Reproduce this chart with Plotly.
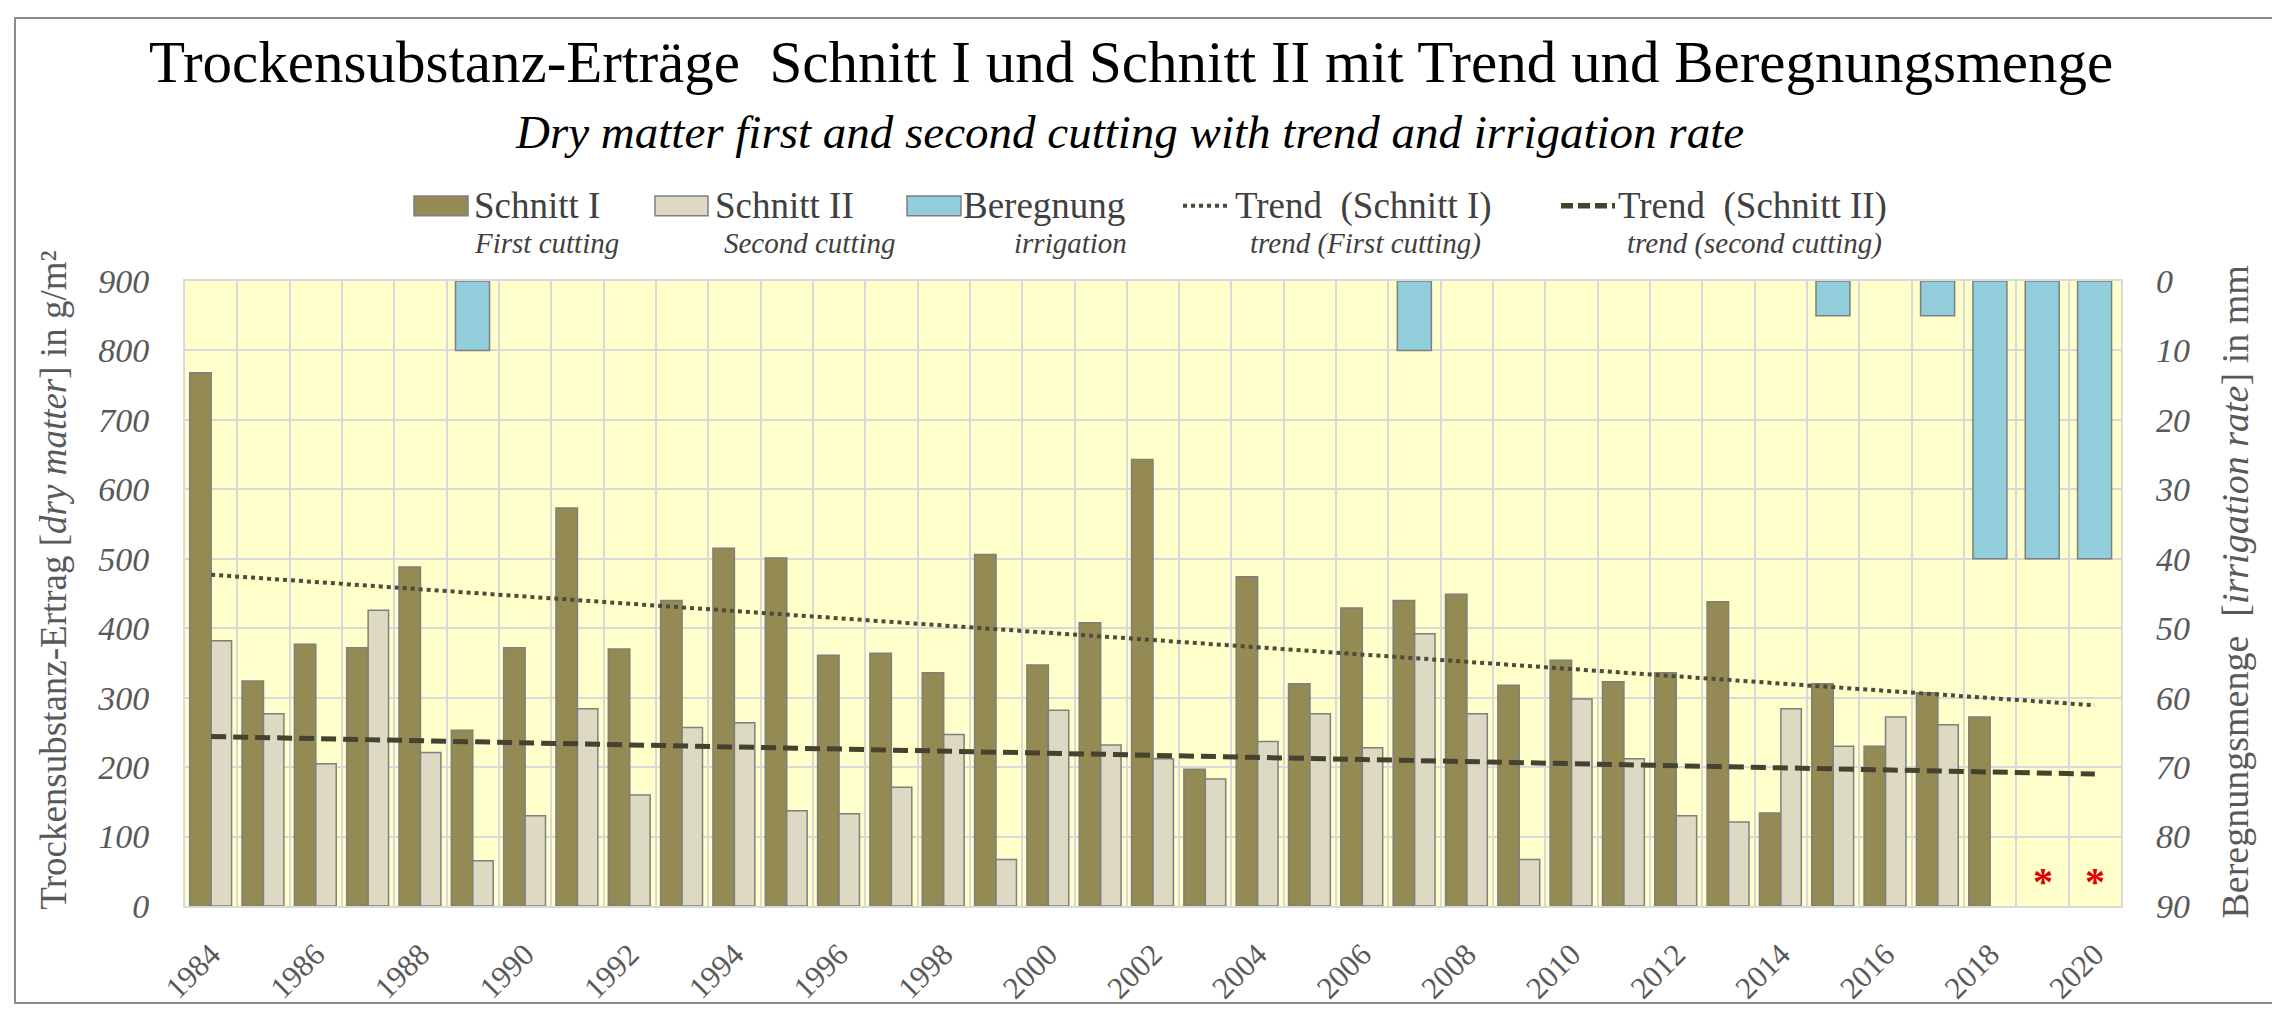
import plotly.graph_objects as go

# --- data ---
years = list(range(1984, 2021))

# dry matter yield, first cutting (g/m²); 2019 and 2020 missing
schnitt_1 = [768, 324, 377, 372, 488, 253, 372, 573, 370, 440,
             515, 501, 361, 364, 336, 506, 347, 408, 643, 197,
             474, 320, 429, 440, 449, 318, 354, 323, 336, 438,
             134, 320, 230, 307, 272, None, None]

# dry matter yield, second cutting (g/m²)
schnitt_2 = [382, 277, 205, 426, 221, 65, 130, 284, 160, 257,
             264, 137, 133, 171, 247, 67, 282, 232, 212, 183,
             237, 277, 228, 392, 277, 67, 298, 212, 130, 121,
             284, 230, 272, 261, None, None, None]

# irrigation (mm), right axis
beregnung = [None, None, None, None, None, 10, None, None, None, None,
             None, None, None, None, None, None, None, None, None, None,
             None, None, None, 10, None, None, None, None, None, None,
             None, 5, None, 5, 40, 40, 40]

# linear trends (start / end values as drawn)
trend_years = [1984, 2020]
trend_1 = [477, 289]
trend_2 = [244, 190]

missing_years = [2019, 2020]
tick_years = [1984, 1986, 1988, 1990, 1992, 1994, 1996, 1998, 2000, 2002,
              2004, 2006, 2008, 2010, 2012, 2014, 2016, 2018, 2020]

# --- styling ---
FONT = "Liberation Serif"
C_S1 = "#948A54"
C_S2 = "#DDD9C3"
C_IRR = "#92CDDC"
C_EDGE = "#7f7f7f"
C_TREND1 = "#4d4c3a"
C_TREND2 = "#45422f"
C_GRID = "#d9d9d9"
C_AXIS = "#595959"
C_LEG = "#404040"

# plot area in page pixels
L, R, T, B = 177, 2113, 273, 905
W, H = R - L, B - T


def px(x):
    return (x - L) / W


def py(y):
    return (B - y) / H


fig = go.Figure()

fig.add_trace(go.Bar(x=years, y=schnitt_1, width=0.41, offset=-0.41,
                     marker=dict(color=C_S1, line=dict(color=C_EDGE, width=1.5)),
                     name="Schnitt I"))
fig.add_trace(go.Bar(x=years, y=schnitt_2, width=0.39, offset=0,
                     marker=dict(color=C_S2, line=dict(color=C_EDGE, width=1.5)),
                     name="Schnitt II"))
fig.add_trace(go.Scatter(x=trend_years, y=trend_1, mode="lines",
                         line=dict(color=C_TREND1, width=4, dash="dot"),
                         name="Trend (Schnitt I)"))
fig.add_trace(go.Scatter(x=trend_years, y=trend_2, mode="lines",
                         line=dict(color=C_TREND2, width=5, dash="15px,7px"),
                         name="Trend (Schnitt II)"))
fig.add_trace(go.Bar(x=years, y=beregnung, yaxis="y2", width=0.65, offset=-0.33,
                     marker=dict(color=C_IRR, line=dict(color=C_EDGE, width=1.5)),
                     name="Beregnung"))

annotations = []
shapes = []

# title + subtitle
annotations.append(dict(text="Trockensubstanz-Erträge  Schnitt I und Schnitt II mit Trend und Beregnungsmenge",
                        x=px(1123), y=py(52), xref="paper", yref="paper",
                        xanchor="center", yanchor="middle", showarrow=False,
                        font=dict(family=FONT, size=59, color="#000000")))
annotations.append(dict(text="<i>Dry matter first and second cutting with trend and irrigation rate</i>",
                        x=px(1121), y=py(122), xref="paper", yref="paper",
                        xanchor="center", yanchor="middle", showarrow=False,
                        font=dict(family=FONT, size=47, color="#000000")))

# hand-built legend with English sub-labels
leg_y, sub_y = 197, 235
legend_items = [
    # kind, colour, x0, x1, text_x, label, sub_x, sub_label
    ("box", C_S1, 406, 460, 464, "Schnitt I", 464, "First cutting"),
    ("box", C_S2, 647, 700, 705, "Schnitt II", 714, "Second cutting"),
    ("box", C_IRR, 899, 953, 953, "Beregnung", 1004, "irrigation"),
    ("dot", C_TREND1, 1175, 1222, 1225, "Trend  (Schnitt I)", 1240, "trend (First cutting)"),
    ("dash", C_TREND2, 1553, 1607, 1608, "Trend  (Schnitt II)", 1617, "trend (second cutting)"),
]
for kind, col, x0, x1, tx, label, sx, sub in legend_items:
    if kind == "box":
        shapes.append(dict(type="rect", xref="paper", yref="paper",
                           x0=px(x0), x1=px(x1), y0=py(leg_y + 10), y1=py(leg_y - 10),
                           fillcolor=col, line=dict(color=C_EDGE, width=1.5)))
    else:
        shapes.append(dict(type="line", xref="paper", yref="paper",
                           x0=px(x0), x1=px(x1), y0=py(leg_y), y1=py(leg_y),
                           line=dict(color=col, width=4 if kind == "dot" else 5.5,
                                     dash="dot" if kind == "dot" else "12px,5px")))
    annotations.append(dict(text=label, x=px(tx), y=py(leg_y), xref="paper", yref="paper",
                            xanchor="left", yanchor="middle", showarrow=False,
                            font=dict(family=FONT, size=37, color=C_LEG)))
    annotations.append(dict(text="<i>" + sub + "</i>", x=px(sx), y=py(sub_y), xref="paper", yref="paper",
                            xanchor="left", yanchor="middle", showarrow=False,
                            font=dict(family=FONT, size=29, color=C_LEG)))

# axis titles
annotations.append(dict(text="Trockensubstanz-Ertrag [<i>dry matter</i>] in g/m²",
                        x=px(46), y=py(576), xref="paper", yref="paper", textangle=-90,
                        xanchor="center", yanchor="middle", showarrow=False,
                        font=dict(family=FONT, size=37, color=C_AXIS)))
annotations.append(dict(text="Beregnungsmenge  [<i>irrigation rate</i>] in mm",
                        x=px(2227), y=py(588), xref="paper", yref="paper", textangle=-90,
                        xanchor="center", yanchor="middle", showarrow=False,
                        font=dict(family=FONT, size=38, color=C_AXIS)))

# red asterisks for years without harvest data
for yr in missing_years:
    annotations.append(dict(text="<b>*</b>", x=yr, y=36, xref="x", yref="y",
                            xanchor="center", yanchor="middle", showarrow=False,
                            font=dict(family=FONT, size=40, color="#e00000")))

# outer frame
shapes.append(dict(type="rect", xref="paper", yref="paper",
                   x0=px(7), x1=px(2272), y0=py(1003), y1=py(7),
                   line=dict(color="#8c8c8c", width=2), layer="below"))

fig.update_layout(
    width=2280, height=1009, autosize=False,
    margin=dict(l=L, r=2280 - R, t=T, b=1009 - B, pad=0),
    paper_bgcolor="white", plot_bgcolor="#FFFFCC",
    barmode="overlay", showlegend=False,
    font=dict(family=FONT, color=C_AXIS),
    annotations=annotations, shapes=shapes,
    xaxis=dict(range=[1983.5, 2020.5], tickmode="array", tickvals=tick_years,
               ticktext=[str(t) for t in tick_years], tickangle=-45,
               tickfont=dict(family=FONT, size=31, color=C_AXIS),
               showgrid=False, zeroline=False,
               showline=True, linecolor=C_GRID, linewidth=2, mirror=True,
               ticks="", ticklabelstandoff=16,
               minor=dict(tickmode="linear", tick0=1983.5, dtick=1,
                          showgrid=True, gridcolor=C_GRID, gridwidth=1.5, ticks="")),
    yaxis=dict(range=[0, 900], dtick=100, tickmode="linear", tick0=0,
               tickfont=dict(family=FONT, size=34, color=C_AXIS, style="italic"),
               showgrid=True, gridcolor=C_GRID, gridwidth=1.5, zeroline=False,
               showline=True, linecolor=C_GRID, linewidth=2, mirror=True,
               ticks="", ticklabelstandoff=27),
    yaxis2=dict(range=[90, 0], dtick=10, tickmode="linear", tick0=0,
                overlaying="y", side="right",
                tickfont=dict(family=FONT, size=34, color=C_AXIS, style="italic"),
                showgrid=False, zeroline=False, ticks="", ticklabelstandoff=34),
)

fig.write_html("out.html")
